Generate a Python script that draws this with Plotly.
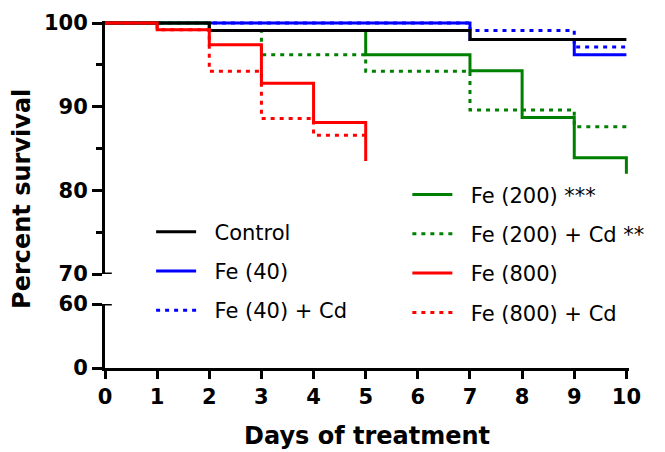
import plotly.graph_objects as go

# ---- data ----
control_days = [0, 2, 7, 10]
control = [100, 99.1, 98.05, 98.05]

fe40_days = [0, 7, 9, 10]
fe40 = [100, 98.05, 96.2, 96.2]

fe40cd_days = [0, 7, 9, 10]
fe40cd = [100, 99.1, 97.15, 97.15]

fe200_days = [0, 2, 5, 7, 8, 9, 10]
fe200 = [100, 99.1, 96.2, 94.3, 88.7, 83.9, 82.0]

fe200cd_days = [0, 2, 3, 5, 7, 9, 10]
fe200cd = [100, 99.1, 96.2, 94.25, 89.6, 87.6, 87.6]

fe800_days = [0, 1, 2, 3, 4, 5]
fe800 = [100, 99.2, 97.4, 92.8, 88.1, 83.5]

fe800cd_days = [0, 1, 2, 3, 4, 5]
fe800cd = [100, 99.2, 94.25, 88.6, 86.6, 86.6]

x_ticks = list(range(0, 11))
y_upper_ticks = [70, 80, 90, 100]
y_upper_minor = [75, 85, 95]
y_lower_ticks = [0, 60]

# ---- style ----
FONT = "DejaVu Sans"
BLUE, GREEN, RED, BLACK = "#0000FF", "#008000", "#FF0000", "#000000"
DOT = "4px,5px"
LW = 3
PAD = "\u00a0\u00a0"

# drawing order chosen to match overlaps in reference
series = [
    ("Fe (40)", fe40_days, fe40, BLUE, "solid", "legend", 2),
    ("Fe (40) + Cd", fe40cd_days, fe40cd, BLUE, DOT, "legend", 3),
    ("Fe (200) ***", fe200_days, fe200, GREEN, "solid", "legend2", 4),
    ("Fe (200) + Cd **", fe200cd_days, fe200cd, GREEN, DOT, "legend2", 5),
    ("Control", control_days, control, BLACK, "solid", "legend", 1),
    ("Fe (800)", fe800_days, fe800, RED, "solid", "legend2", 6),
    ("Fe (800) + Cd", fe800cd_days, fe800cd, RED, DOT, "legend2", 7),
]

fig = go.Figure()
for name, xs, ys, col, dash, leg, rank in series:
    fig.add_trace(go.Scatter(
        x=xs, y=ys, name=PAD + name, mode="lines",
        line=dict(color=col, width=LW, dash=dash, shape="hv"),
        xaxis="x", yaxis="y", legend=leg, legendrank=rank,
        legendgroup=name,
    ))

W, H = 665, 452
top_px, axis_px = 21, 368
ph = axis_px - top_px
y70_px, y60_px = 274, 304
upper_dom = [(axis_px - y70_px) / ph, 1]
lower_dom = [0, (axis_px - y60_px) / ph]

tickfont = dict(family=FONT, size=21, color="black", weight="bold")
legfont = dict(family=FONT, size=21, color="black")

fig.update_layout(
    width=W, height=H,
    margin=dict(l=105, r=36, t=top_px, b=H - axis_px, autoexpand=False),
    paper_bgcolor="white", plot_bgcolor="white",
    xaxis=dict(range=[0, 10.05], anchor="y2", tickvals=x_ticks,
               showgrid=False, zeroline=False, showline=True,
               linecolor="black", linewidth=3, ticks="outside",
               ticklen=8, tickwidth=3, tickcolor="black", tickfont=tickfont,
               automargin=False),
    yaxis=dict(domain=upper_dom, range=[70, 100.25], anchor="x",
               tickvals=y_upper_ticks, showgrid=False, zeroline=False,
               showline=True, linecolor="black", linewidth=3,
               ticks="outside", ticklen=10, tickwidth=3, tickcolor="black",
               tickfont=tickfont, automargin=False,
               minor=dict(tickvals=y_upper_minor, ticks="outside", ticklen=6,
                          tickwidth=3, tickcolor="black", showgrid=False)),
    yaxis2=dict(domain=lower_dom, range=[0, 60], anchor="x",
                tickvals=y_lower_ticks, showgrid=False, zeroline=False,
                showline=True, linecolor="black", linewidth=3,
                ticks="outside", ticklen=10, tickwidth=3, tickcolor="black",
                tickfont=tickfont, automargin=False),
    legend=dict(x=0.088, y=0.451, xanchor="left", yanchor="top",
                bgcolor="rgba(0,0,0,0)", font=legfont, traceorder="grouped",
                tracegroupgap=9, itemwidth=40),
    legend2=dict(x=0.577, y=0.558, xanchor="left", yanchor="top",
                 bgcolor="rgba(0,0,0,0)", font=legfont, traceorder="grouped",
                 tracegroupgap=9, itemwidth=40),
    annotations=[
        dict(text="Percent survival", textangle=-90, showarrow=False,
             xref="paper", yref="paper", x=(22 - 105) / 523.6,
             y=(axis_px - 199) / ph, xanchor="center", yanchor="middle",
             font=dict(family=FONT, size=24, color="black", weight="bold")),
        dict(text="Days of treatment", showarrow=False,
             xref="paper", yref="paper", x=0.5, y=(axis_px - 436) / ph,
             xanchor="center", yanchor="middle",
             font=dict(family=FONT, size=24, color="black", weight="bold")),
    ],
    shapes=[
        dict(type="line", xref="x domain", yref="y", x0=0, x1=0.013,
             y0=70, y1=70, line=dict(color="black", width=3)),
        dict(type="line", xref="x domain", yref="y2", x0=0, x1=0.013,
             y0=60, y1=60, line=dict(color="black", width=3)),
    ],
)

fig.write_html("out.html",
               config={"displayModeBar": False},
               post_script="document.body.style.margin='0';document.body.style.overflow='hidden';")
